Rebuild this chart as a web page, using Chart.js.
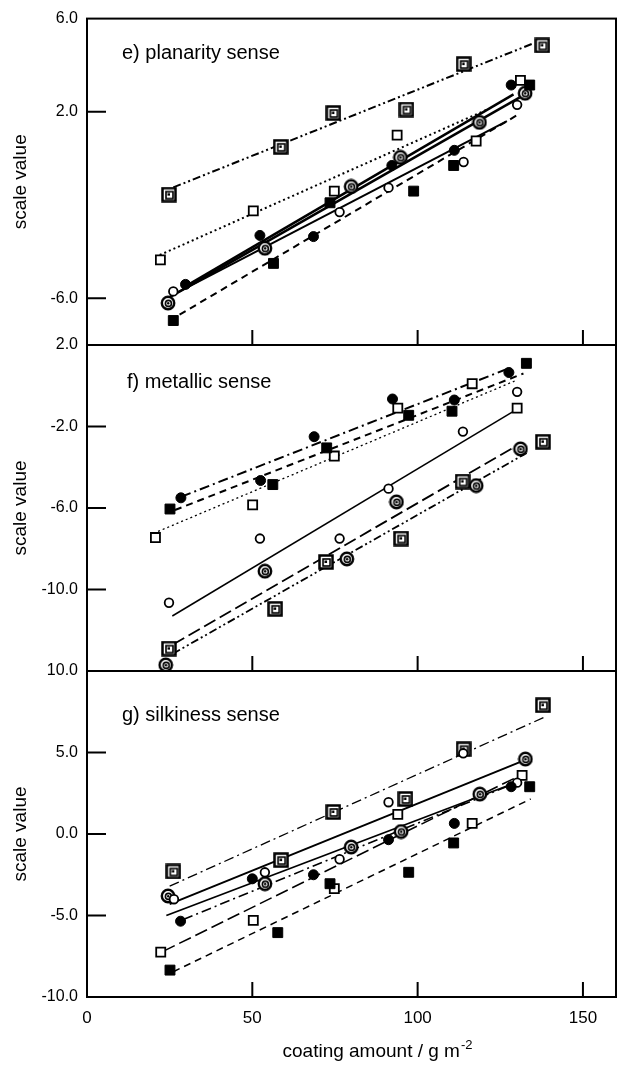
<!DOCTYPE html>
<html>
<head>
<meta charset="utf-8">
<script src="https://cdn.jsdelivr.net/npm/chart.js@4.4.1/dist/chart.umd.min.js"></script>
<style>
  html, body { margin: 0; padding: 0; background: #fff; overflow: hidden; }
  #quadro { position: relative; width: 620px; height: 1079px; }
  #quadro canvas { position: absolute; left: 0; top: 0; }
</style>
</head>
<body>
<div id="quadro">
  <canvas id="painelE" width="620" height="1079"></canvas>
  <canvas id="painelF" width="620" height="1079"></canvas>
  <canvas id="painelG" width="620" height="1079"></canvas>
</div>
<script>
// ordem das séries em todos os painéis:
// círculo cheio, círculo aberto, quadrado cheio, quadrado aberto, círculo duplo, quadrado duplo
const xTicks = [0, 50, 100, 150];

// e) planarity sense
const planarityTicks = [6, 2, -6];
const planarityFilledCircle = [[29.8, -5.4], [52.3, -3.3], [68.5, -3.35], [92.2, -0.3], [111.1, 0.35], [128.3, 3.15]];
const planarityOpenCircle = [[26.1, -5.7], [76.4, -2.3], [91.2, -1.25], [113.9, -0.15], [130.1, 2.3]];
const planarityFilledSquare = [[26.1, -6.95], [56.4, -4.5], [73.5, -1.9], [98.8, -1.4], [110.9, -0.3], [133.9, 3.15]];
const planarityOpenSquare = [[22.2, -4.35], [50.3, -2.25], [74.8, -1.4], [93.8, 1.0], [117.7, 0.75], [131.1, 3.35]];
const planarityDoubleCircle = [[24.5, -6.2], [53.8, -3.85], [79.9, -1.2], [94.8, 0.05], [118.7, 1.55], [132.5, 2.8]];
const planarityDoubleSquare = [[24.8, -1.55], [58.6, 0.5], [74.5, 1.95], [96.6, 2.1], [113.9, 4.05], [137.7, 4.85]];
// retas de ajuste: [x1, y1, x2, y2]
const planarityFits = [
  [29, -5.55, 129, 2.75],
  [26, -5.85, 127, 1.6],
  [28, -6.7, 130, 1.85],
  [22, -4.14, 121, 2.1],
  [25, -5.95, 132.1, 2.72],
  [26.1, -1.24, 135.2, 4.95],
];

// f) metallic sense
const metallicTicks = [2, -2, -6, -10];
const metallicFilledCircle = [[28.4, -5.5], [52.5, -4.65], [68.7, -2.5], [92.4, -0.65], [111.1, -0.7], [127.6, 0.65]];
const metallicOpenCircle = [[24.8, -10.65], [52.3, -7.5], [76.4, -7.5], [91.2, -5.05], [113.7, -2.25], [130.1, -0.3]];
const metallicFilledSquare = [[25.1, -6.05], [56.2, -4.85], [72.5, -3.05], [97.3, -1.45], [110.4, -1.25], [132.9, 1.1]];
const metallicOpenSquare = [[20.7, -7.45], [50.1, -5.85], [74.8, -3.45], [94, -1.1], [116.5, 0.1], [130.1, -1.1]];
const metallicDoubleCircle = [[23.8, -13.7], [53.8, -9.1], [78.6, -8.5], [93.6, -5.7], [117.7, -4.9], [131.1, -3.1]];
const metallicDoubleSquare = [[24.8, -12.9], [56.9, -10.95], [72.3, -8.65], [95, -7.5], [113.6, -4.7], [137.9, -2.75]];
const metallicFits = [
  [28.5, -5.45, 127.5, 0.85],
  [25.8, -11.3, 129.1, -1.25],
  [26.6, -6.1, 132, 0.6],
  [21.5, -7.15, 129.6, 0.25],
  [26, -13.15, 133, -3.3],
  [26, -12.7, 131, -2.85],
];

// g) silkiness sense
const silkinessTicks = [10, 5, 0, -5, -10];
const silkinessFilledCircle = [[28.3, -5.35], [50, -2.75], [68.5, -2.5], [91.2, -0.35], [111.1, 0.65], [128.3, 2.9]];
const silkinessOpenCircle = [[26.3, -4.0], [53.8, -2.35], [76.4, -1.55], [91.2, 1.95], [113.8, 4.95], [130.1, 3.15]];
const silkinessFilledSquare = [[25.1, -8.35], [57.7, -6.05], [73.5, -3.05], [97.3, -2.35], [110.9, -0.55], [133.9, 2.9]];
const silkinessOpenSquare = [[22.3, -7.25], [50.3, -5.3], [74.8, -3.35], [94, 1.2], [116.5, 0.65], [131.6, 3.6]];
const silkinessDoubleCircle = [[24.5, -3.8], [53.8, -3.05], [79.9, -0.8], [95, 0.15], [118.8, 2.45], [132.6, 4.6]];
const silkinessDoubleSquare = [[26.1, -2.3], [58.7, -1.6], [74.5, 1.35], [96.3, 2.15], [113.9, 5.2], [137.9, 7.9]];
const silkinessFits = [
  [29.1, -5.25, 128, 3.0],
  [25, -4.3, 132.6, 4.55],
  [26.1, -8.45, 134.2, 2.15],
  [23, -7.2, 129.1, 3.4],
  [24, -5.0, 129, 3.1],
  [25, -3.2, 138.7, 7.2],
];

const FONTE = "'Liberation Sans', Arial, Helvetica, sans-serif";

const tracos = {
  cheio: [],
  tracejado: [7, 5],
  pontilhado: [2, 3],
  longo: [13, 5],
  tracoPonto: [10, 4, 2, 4],
  tracoPontoPonto: [8, 3, 2, 3, 2, 3],
};

function marcadorDuplo(tipo) {
  const c = document.createElement('canvas');
  c.width = 16; c.height = 16;
  const g = c.getContext('2d');
  g.strokeStyle = '#000';
  g.fillStyle = '#fff';
  if (tipo === 'circulo') {
    g.beginPath(); g.arc(8, 8, 7, 0, 2 * Math.PI); g.fill();
    g.lineWidth = 2.4;
    g.beginPath(); g.arc(8, 8, 6.2, 0, 2 * Math.PI); g.stroke();
    g.lineWidth = 1.6;
    g.beginPath(); g.arc(8.4, 8.4, 3, 0, 2 * Math.PI); g.stroke();
    g.fillStyle = '#000';
    g.beginPath(); g.arc(8.2, 8.2, 1.2, 0, 2 * Math.PI); g.fill();
  } else {
    g.fillRect(1, 1, 14, 14);
    g.lineWidth = 2.5;
    g.strokeRect(1.5, 1.5, 13, 13);
    g.lineWidth = 1.6;
    g.strokeRect(5, 5, 7, 7);
    g.fillStyle = '#000';
    g.fillRect(6.5, 6.5, 2.5, 2.5);
  }
  return c;
}

const marcadores = [
  { pointStyle: 'circle', pointRadius: 5, pointBackgroundColor: '#000', pointBorderColor: '#000', pointBorderWidth: 1 },
  { pointStyle: 'circle', pointRadius: 4.3, pointBackgroundColor: '#fff', pointBorderColor: '#000', pointBorderWidth: 1.8 },
  { pointStyle: 'rect', pointRadius: 7, pointBackgroundColor: '#000', pointBorderColor: '#000', pointBorderWidth: 1 },
  { pointStyle: 'rect', pointRadius: 6.4, pointBackgroundColor: '#fff', pointBorderColor: '#000', pointBorderWidth: 1.8 },
  { pointStyle: marcadorDuplo('circulo'), pointRadius: 7 },
  { pointStyle: marcadorDuplo('quadrado'), pointRadius: 7 },
];

const paineis = [
  {
    canvas: 'painelE', titulo: 'e) planarity sense', tx: 122, ty: 59,
    min: -8, max: 6, ticks: planarityTicks, topo: 15, base: 345,
    series: [planarityFilledCircle, planarityOpenCircle, planarityFilledSquare, planarityOpenSquare, planarityDoubleCircle, planarityDoubleSquare],
    fits: planarityFits,
    estilo: ['cheio', 'cheio', 'tracejado', 'pontilhado', 'cheio', 'tracoPontoPonto'],
    larguras: [2.5, 2, 2, 2, 2.5, 2],
  },
  {
    canvas: 'painelF', titulo: 'f) metallic sense', tx: 127, ty: 388,
    min: -14, max: 2, ticks: metallicTicks, topo: 345, base: 671,
    series: [metallicFilledCircle, metallicOpenCircle, metallicFilledSquare, metallicOpenSquare, metallicDoubleCircle, metallicDoubleSquare],
    fits: metallicFits,
    estilo: ['tracoPonto', 'cheio', 'tracejado', 'pontilhado', 'tracoPontoPonto', 'longo'],
    larguras: [2, 1.5, 2, 1.3, 1.8, 1.8],
  },
  {
    canvas: 'painelG', titulo: 'g) silkiness sense', tx: 122, ty: 721,
    min: -10, max: 10, ticks: silkinessTicks, topo: 671, base: 997,
    series: [silkinessFilledCircle, silkinessOpenCircle, silkinessFilledSquare, silkinessOpenSquare, silkinessDoubleCircle, silkinessDoubleSquare],
    fits: silkinessFits,
    estilo: ['tracoPonto', 'cheio', 'tracejado', 'longo', 'cheio', 'tracoPonto'],
    larguras: [1.6, 2, 1.5, 1.6, 1.8, 1.3],
    eixoX: true,
  },
];

const moldura = {
  id: 'moldura',
  afterDraw(chart, args, opts) {
    const { ctx, chartArea: a, scales: { x, y } } = chart;
    ctx.save();
    ctx.strokeStyle = '#000';
    ctx.lineWidth = 2;
    ctx.strokeRect(a.left, a.top, a.right - a.left, a.bottom - a.top);
    // marcas para dentro
    ctx.beginPath();
    y.ticks.forEach(t => {
      const py = y.getPixelForValue(t.value);
      if (py > a.top + 2 && py < a.bottom - 2) {
        ctx.moveTo(a.left, py);
        ctx.lineTo(a.left + 19, py);
      }
    });
    xTicks.forEach(v => {
      const px = x.getPixelForValue(v);
      if (px > a.left + 2) {
        ctx.moveTo(px, a.bottom);
        ctx.lineTo(px, a.bottom - 15);
      }
    });
    ctx.stroke();

    ctx.fillStyle = '#000';
    ctx.textBaseline = 'alphabetic';
    ctx.textAlign = 'left';
    ctx.font = `20px ${FONTE}`;
    ctx.fillText(opts.titulo, opts.tx, opts.ty);

    if (opts.eixoX) {
      const texto = 'coating amount / g m';
      const sup = '-2';
      ctx.font = `19px ${FONTE}`;
      const w1 = ctx.measureText(texto).width;
      ctx.font = `13px ${FONTE}`;
      const w2 = ctx.measureText(sup).width;
      const x0 = 377 - (w1 + w2) / 2;
      ctx.font = `19px ${FONTE}`;
      ctx.fillText(texto, x0, 1057);
      ctx.font = `13px ${FONTE}`;
      ctx.fillText(sup, x0 + w1 + 1, 1049);
    }
    ctx.restore();
  },
};

function montarPainel(p) {
  const datasets = [];
  p.fits.forEach((f, i) => {
    datasets.push({
      data: [{ x: f[0], y: f[1] }, { x: f[2], y: f[3] }],
      showLine: true,
      borderColor: '#000',
      borderWidth: p.larguras[i],
      borderDash: tracos[p.estilo[i]],
      pointRadius: 0,
      order: 2,
    });
  });
  p.series.forEach((s, i) => {
    datasets.push({
      data: s.map(([x, y]) => ({ x, y })),
      showLine: false,
      ...marcadores[i],
      order: 1,
    });
  });

  const alturaEixoX = p.eixoX ? 1079 - p.base : 0;

  new Chart(document.getElementById(p.canvas), {
    type: 'scatter',
    data: { datasets },
    options: {
      responsive: false,
      animation: false,
      events: [],
      layout: {
        autoPadding: false,
        padding: { top: p.topo, bottom: p.eixoX ? 0 : 1079 - p.base, left: 0, right: 4 },
      },
      plugins: {
        legend: { display: false },
        tooltip: { enabled: false },
        moldura: { titulo: p.titulo, tx: p.tx, ty: p.ty, eixoX: !!p.eixoX },
      },
      scales: {
        x: {
          type: 'linear',
          min: 0,
          max: 160,
          display: !!p.eixoX,
          afterBuildTicks: s => { s.ticks = xTicks.map(v => ({ value: v })); },
          afterFit: s => { s.height = alturaEixoX; },
          grid: { display: false, drawTicks: false },
          border: { display: false },
          ticks: { color: '#000', font: { family: FONTE, size: 17 }, padding: 11, maxRotation: 0, autoSkip: false },
        },
        y: {
          type: 'linear',
          min: p.min,
          max: p.max,
          afterBuildTicks: s => { s.ticks = p.ticks.map(v => ({ value: v })); },
          afterFit: s => { s.width = 87; },
          grid: { display: false, drawTicks: false },
          border: { display: false },
          ticks: {
            color: '#000',
            font: { family: FONTE, size: 16 },
            padding: 9,
            callback: v => v.toFixed(1),
          },
          title: {
            display: true,
            text: 'scale value',
            color: '#000',
            font: { family: FONTE, size: 19 },
            padding: { top: 9, bottom: 0 },
          },
        },
      },
    },
    plugins: [moldura],
  });
}

paineis.forEach(montarPainel);
</script>
</body>
</html>
